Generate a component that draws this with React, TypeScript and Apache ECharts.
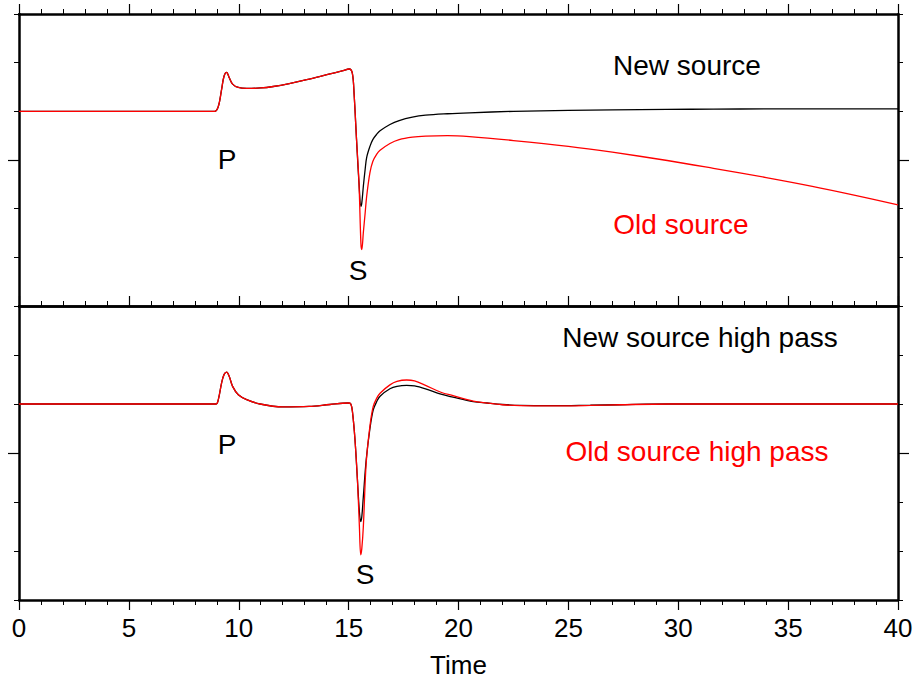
import React, { useEffect, useRef } from "react";
import * as echarts from "echarts";

// ---- data (time in seconds, amplitude in arbitrary units; baseline 0) ----
const topTime = [0, 8.9, 9.07, 9.22, 9.33, 9.45, 9.57, 9.72, 9.98, 10.36, 11, 11.57, 12.3, 13.09, 14.15, 14.7, 15.03, 15.17, 15.25, 15.36, 15.47, 15.56, 15.6, 15.67, 15.75, 15.82, 15.97, 16.1, 16.28, 16.43, 16.88, 17.3, 17.9, 18.5, 19.5, 20.5, 22.5, 25, 27, 29.5, 31.6, 34, 36.1, 38, 40];
const topNew = [0, 0, 0.1, 0.45, 0.72, 0.8, 0.69, 0.56, 0.49, 0.47, 0.48, 0.51, 0.57, 0.65, 0.77, 0.83, 0.87, 0.78, 0.35, -0.58, -1.46, -1.95, -1.88, -1.54, -1.2, -0.95, -0.72, -0.58, -0.47, -0.4, -0.27, -0.19, -0.12, -0.08, -0.05, -0.03, 0, 0.02, 0.03, 0.04, 0.045, 0.05, 0.05, 0.05, 0.05];
const topOld = [0, 0, 0.1, 0.45, 0.72, 0.8, 0.69, 0.56, 0.49, 0.47, 0.48, 0.51, 0.57, 0.65, 0.77, 0.83, 0.87, 0.78, 0.35, -0.58, -1.46, -2.72, -2.84, -2.49, -2.1, -1.75, -1.26, -1.03, -0.88, -0.8, -0.66, -0.58, -0.53, -0.51, -0.5, -0.52, -0.6, -0.72, -0.84, -1.01, -1.17, -1.36, -1.54, -1.72, -1.92];

const botTime = [0, 8.96, 9.07, 9.22, 9.33, 9.45, 9.57, 9.72, 9.98, 10.36, 10.97, 12.0, 13.2, 14.15, 14.97, 15.1, 15.18, 15.29, 15.4, 15.49, 15.55, 15.6, 15.67, 15.8, 15.97, 16.12, 16.28, 16.43, 16.88, 17.2, 17.64, 18.0, 18.5, 19.2, 19.75, 20.67, 21.3, 22.0, 22.8, 24.3, 26, 27.35, 29.6, 33, 40];
const botNew = [0, 0, 0.09, 0.43, 0.6, 0.65, 0.56, 0.36, 0.19, 0.09, 0.0, -0.06, -0.05, -0.01, 0.02, 0.0, -0.18, -0.73, -1.54, -2.2, -2.4, -2.3, -1.89, -1.14, -0.5, -0.12, 0.05, 0.16, 0.31, 0.36, 0.38, 0.37, 0.31, 0.2, 0.14, 0.05, 0.02, -0.01, -0.03, -0.035, -0.025, -0.015, 0, 0, 0];
const botOld = [0, 0, 0.09, 0.43, 0.6, 0.65, 0.56, 0.36, 0.19, 0.09, 0.0, -0.06, -0.05, -0.01, 0.02, 0.0, -0.18, -0.73, -1.54, -2.5, -3.08, -2.95, -2.5, -1.2, -0.45, -0.05, 0.12, 0.22, 0.39, 0.46, 0.49, 0.47, 0.38, 0.24, 0.17, 0.06, 0.02, -0.015, -0.035, -0.04, -0.03, -0.015, 0, 0, 0];

const xMin = 0;
const xMax = 40;
const xMajor = 5;
const yMin = -4;
const yMax = 2;
const yMajorTick = [-1];

const labelsTop = ["New source", "Old source", "P", "S"];
const labelsBot = ["New source high pass", "Old source high pass", "P", "S"];

const FONT = "'Liberation Sans', Arial, Helvetica, sans-serif";

const pairs = (t: number[], v: number[]) => t.map((x, i) => [x, v[i]]);

export default function App() {
  const ref = useRef<HTMLDivElement>(null);
  useEffect(() => {
    if (!ref.current) return;
    const chart = echarts.init(ref.current, null, { renderer: "svg" });
    const lineW = 2.5;
    const axisLine = { show: true, onZero: false, lineStyle: { color: "#000", width: lineW } };
    const majorTick = (len: number) => ({ show: true, inside: false, length: len, lineStyle: { color: "#000", width: 1.2 } });
    const minorTick = { show: true, splitNumber: 5, length: 5, lineStyle: { color: "#000", width: 1 } };
    const grids = [
      { left: 19, right: 19, top: 14, height: 292 },
      { left: 19, right: 19, top: 306, height: 294 },
      { left: 19, right: 19, top: 14, height: 292 },
      { left: 19, right: 19, top: 306, height: 294 },
    ];
    const xBase = { type: "value", min: xMin, max: xMax, interval: xMajor, splitLine: { show: false } };
    const xAxis = [
      { ...xBase, gridIndex: 0, position: "bottom", axisLine, axisTick: { show: false }, axisLabel: { show: false } },
      { ...xBase, gridIndex: 0, position: "top", axisLine, axisTick: majorTick(10), minorTick, axisLabel: { show: false } },
      { ...xBase, gridIndex: 1, position: "top", axisLine, axisTick: majorTick(10), minorTick, axisLabel: { show: false } },
      {
        ...xBase, gridIndex: 1, position: "bottom", axisLine, axisTick: majorTick(10), minorTick,
        axisLabel: { show: true, color: "#000", fontSize: 26, fontFamily: FONT, margin: 15 },
        name: "Time", nameLocation: "middle", nameGap: 52,
        nameTextStyle: { color: "#000", fontSize: 26, fontFamily: FONT },
      },
      { ...xBase, gridIndex: 2, show: false },
      { ...xBase, gridIndex: 3, show: false },
    ];
    const yBase = { type: "value", min: yMin, max: yMax, interval: 1, splitLine: { show: false }, axisLabel: { show: false } };
    const yMinorTick = { show: true, inside: false, length: 5, lineStyle: { color: "#000", width: 1 } };
    const yBig = { show: true, inside: false, length: 11, customValues: yMajorTick, lineStyle: { color: "#000", width: 1.2 } };
    const yAxis = [
      { ...yBase, gridIndex: 0, position: "left", axisLine, axisTick: yMinorTick },
      { ...yBase, gridIndex: 0, position: "right", axisLine, axisTick: yMinorTick },
      { ...yBase, gridIndex: 1, position: "left", axisLine, axisTick: yMinorTick },
      { ...yBase, gridIndex: 1, position: "right", axisLine, axisTick: yMinorTick },
      { ...yBase, gridIndex: 2, position: "left", axisLine: { show: false }, axisTick: yBig },
      { ...yBase, gridIndex: 2, position: "right", axisLine: { show: false }, axisTick: yBig },
      { ...yBase, gridIndex: 3, position: "left", axisLine: { show: false }, axisTick: yBig },
      { ...yBase, gridIndex: 3, position: "right", axisLine: { show: false }, axisTick: yBig },
    ];
    const mk = (name: string, data: number[][], color: string, xi: number, yi: number) => ({
      name, type: "line", data, xAxisIndex: xi, yAxisIndex: yi, showSymbol: false, symbol: "none",
      smooth: 0.35, lineStyle: { color, width: 1.3 }, silent: true, clip: true,
    });
    const series = [
      mk("New source", pairs(topTime, topNew), "#000000", 0, 0),
      mk("Old source", pairs(topTime, topOld), "#ff0000", 0, 0),
      mk("New source high pass", pairs(botTime, botNew), "#000000", 3, 2),
      mk("Old source high pass", pairs(botTime, botOld), "#ff0000", 3, 2),
    ];
    const txt = (text: string, x: number, y: number, color: string) => ({
      type: "text", x, y, silent: true,
      style: { text, fill: color, font: `28px ${FONT}`, align: "center", verticalAlign: "middle" },
    });
    const graphic = [
      txt(labelsTop[0], 687, 65, "#000"),
      txt(labelsTop[1], 681, 224, "#ff0000"),
      txt(labelsTop[2], 227, 159, "#000"),
      txt(labelsTop[3], 358, 270, "#000"),
      txt(labelsBot[0], 700, 337, "#000"),
      txt(labelsBot[1], 697, 451, "#ff0000"),
      txt(labelsBot[2], 227, 444, "#000"),
      txt(labelsBot[3], 365, 574, "#000"),
    ];
    chart.setOption({
      animation: false,
      backgroundColor: "#fff",
      grid: grids,
      xAxis,
      yAxis,
      series,
      graphic,
    } as any);
    return () => chart.dispose();
  }, []);
  return <div ref={ref} style={{ position: "absolute", left: 0, top: 0, width: 917, height: 680 }} />;
}
